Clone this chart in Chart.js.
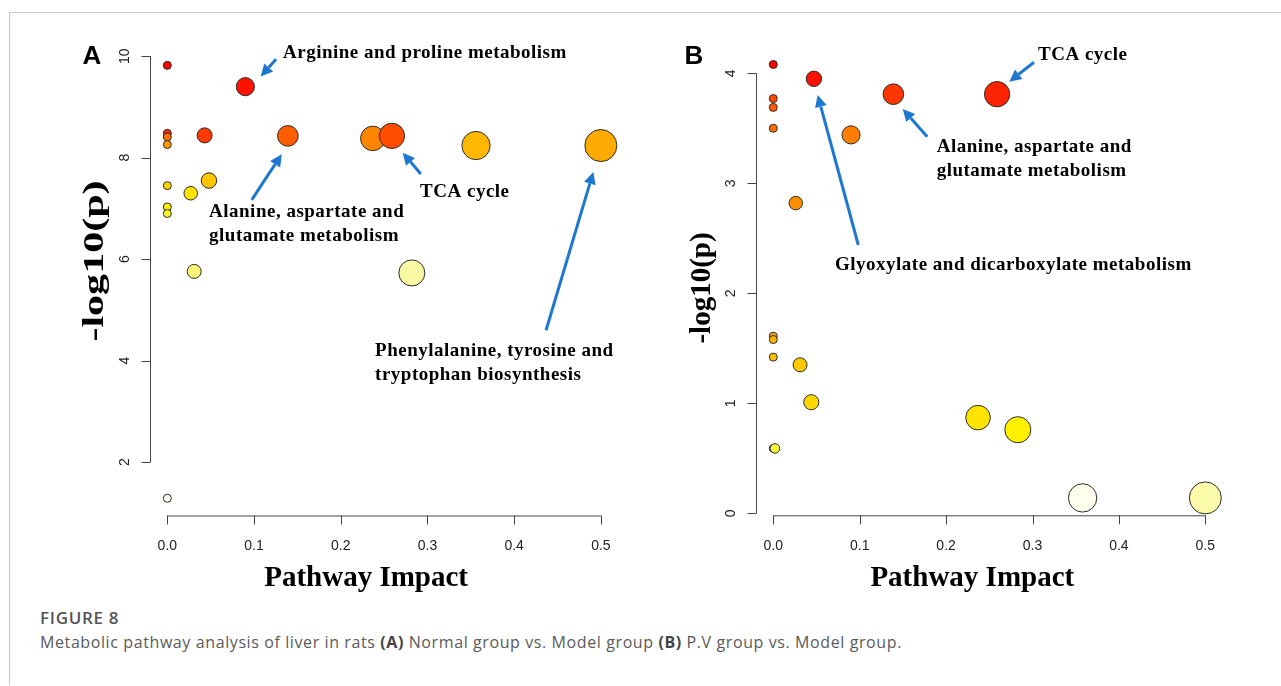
<!DOCTYPE html>
<html>
<head>
<meta charset="utf-8">
<script src="https://cdn.jsdelivr.net/npm/chart.js"></script>
<style>
  html, body { margin: 0; padding: 0; background: #fff; }
  #page { position: relative; width: 1281px; height: 686px; overflow: hidden; background: #fff; }
  #frame { position: absolute; left: 9px; top: 12px; right: 0; height: 672px;
           border-top: 1px solid #c8c8c8; border-left: 1px solid #c8c8c8; }
  canvas { position: absolute; top: 0; }
  #chartA { left: 0; }
  #chartB { left: 640px; }
  .cap { position: absolute; left: 40px; font-family: "Open Sans", "Noto Sans", sans-serif; color: #5a5a5a; white-space: nowrap; }
  #figno { top: 606px; font-size: 17px; letter-spacing: 0.7px; font-weight: 600; color: #555; }
  #figtext { top: 631px; font-size: 16px; letter-spacing: 0.6px; }
  #figtext b { color: #444; }
</style>
</head>
<body>
<div id="page">
  <div id="frame"></div>
  <canvas id="chartA" width="640" height="600"></canvas>
  <canvas id="chartB" width="641" height="600"></canvas>
  <div class="cap" id="figno">FIGURE 8</div>
  <div class="cap" id="figtext">Metabolic pathway analysis of liver in rats <b>(A)</b> Normal group vs. Model group <b>(B)</b> P.V group vs. Model group.</div>
</div>
<script>
// Pathway impact (x) vs -log10(p) (y).
const impactA = [0, 0, 0, 0, 0.043, 0.090, 0.139, 0.237, 0.259, 0.356, 0.500, 0, 0.048, 0.027, 0, 0, 0.031, 0.282, 0];
const logpA   = [9.82, 8.48, 8.41, 8.26, 8.44, 9.40, 8.43, 8.38, 8.43, 8.24, 8.24, 7.45, 7.55, 7.30, 7.03, 6.90, 5.76, 5.73, 1.29];

const impactB = [0, 0, 0, 0, 0.047, 0.090, 0.026, 0.139, 0.259, 0, 0, 0, 0.031, 0.044, 0, 0.002, 0.237, 0.283, 0.358, 0.500];
const logpB   = [4.08, 3.77, 3.69, 3.50, 3.95, 3.44, 2.82, 3.81, 3.81, 1.61, 1.58, 1.42, 1.35, 1.01, 0.59, 0.59, 0.87, 0.76, 0.14, 0.14];

const xTicks  = [0, 0.1, 0.2, 0.3, 0.4, 0.5];
const xLabels = ['0.0', '0.1', '0.2', '0.3', '0.4', '0.5'];
const yTicksA = [2, 4, 6, 8, 10];
const yTicksB = [0, 1, 2, 3, 4];

// annotations in data coordinates: text lines + arrow from -> to
const notesA = [
  { lines: ['Arginine and proline metabolism'], at: [0.1334, 10.06], from: [0.1254, 9.94], to: [0.1077, 9.60] },
  { lines: ['Alanine, aspartate and', 'glutamate metabolism'], at: [0.0481, 6.93], from: [0.0973, 7.17], to: [0.1320, 8.07] },
  { lines: ['TCA cycle'], at: [0.2915, 7.33], from: [0.2923, 7.68], to: [0.2715, 8.10] },
  { lines: ['Phenylalanine, tyrosine and', 'tryptophan biosynthesis'], at: [0.2396, 4.19], from: [0.4368, 4.60], to: [0.4913, 7.72] }
];
const notesB = [
  { lines: ['TCA cycle'], at: [0.3064, 4.166], from: [0.3017, 4.10], to: [0.2731, 3.924] },
  { lines: ['Alanine, aspartate and', 'glutamate metabolism'], at: [0.1891, 3.33], from: [0.1782, 3.424], to: [0.1498, 3.675] },
  { lines: ['Glyoxylate and dicarboxylate metabolism'], at: [0.0714, 2.257], from: [0.0984, 2.439], to: [0.0514, 3.803] }
];

const SERIF = '"Liberation Serif", "Times New Roman", serif';
const SANS = '"Liberation Sans", Arial, sans-serif';

// heat palette by p-value rank (most significant = red)
function heatColor(t) {
  const stops = [[0, 255, 0, 0], [0.5, 255, 170, 0], [0.8, 255, 244, 0], [0.89, 255, 246, 120], [0.95, 250, 250, 170], [1, 255, 255, 238]];
  for (let i = 1; i < stops.length; i++) {
    if (t <= stops[i][0]) {
      const a = stops[i - 1], b = stops[i];
      const f = (t - a[0]) / (b[0] - a[0]);
      const c = [1, 2, 3].map(k => Math.round(a[k] + (b[k] - a[k]) * f));
      return `rgb(${c[0]},${c[1]},${c[2]})`;
    }
  }
  return 'rgb(255,255,238)';
}
function rankColors(vals, xs) {
  // ties broken by larger impact first
  const order = vals.map((v, i) => i).sort((a, b) => (vals[b] - vals[a]) || (xs[b] - xs[a]));
  const out = [];
  order.forEach((idx, rank) => { out[idx] = heatColor(rank / (vals.length - 1)); });
  return out;
}

function drawArrow(ctx, x1, y1, x2, y2) {
  const ang = Math.atan2(y2 - y1, x2 - x1);
  const hl = 12, hw = 6;
  const bx = x2 - hl * Math.cos(ang), by = y2 - hl * Math.sin(ang);
  ctx.strokeStyle = '#1f78d0';
  ctx.fillStyle = '#1f78d0';
  ctx.lineWidth = 3;
  ctx.beginPath(); ctx.moveTo(x1, y1); ctx.lineTo(bx, by); ctx.stroke();
  ctx.beginPath();
  ctx.moveTo(x2, y2);
  ctx.lineTo(bx + hw * Math.sin(ang), by - hw * Math.cos(ang));
  ctx.lineTo(bx - hw * Math.sin(ang), by + hw * Math.cos(ang));
  ctx.closePath(); ctx.fill();
}

// R-like axes: line only over tick range, outward ticks, rotated y labels
const rAxes = {
  id: 'rAxes',
  beforeDatasetsDraw(chart, args, o) {
    const { ctx, chartArea: ca } = chart;
    const sx = chart.scales.x, sy = chart.scales.y;
    ctx.save();
    ctx.strokeStyle = '#444'; ctx.lineWidth = 1; ctx.fillStyle = '#222';
    ctx.font = '14px ' + SANS;
    // x axis
    const xb = ca.bottom;
    ctx.beginPath();
    ctx.moveTo(sx.getPixelForValue(o.xt[0]), xb + 0.5);
    ctx.lineTo(sx.getPixelForValue(o.xt[o.xt.length - 1]), xb + 0.5);
    o.xt.forEach(v => { const p = Math.round(sx.getPixelForValue(v)) + 0.5; ctx.moveTo(p, xb); ctx.lineTo(p, xb + 9); });
    ctx.stroke();
    ctx.textAlign = 'center'; ctx.textBaseline = 'middle';
    o.xt.forEach((v, i) => ctx.fillText(o.xl[i], sx.getPixelForValue(v), xb + 31));
    // y axis
    const yl = Math.round(ca.left) + 0.5;
    ctx.beginPath();
    ctx.moveTo(yl, sy.getPixelForValue(o.yt[0]));
    ctx.lineTo(yl, sy.getPixelForValue(o.yt[o.yt.length - 1]));
    o.yt.forEach(v => { const p = Math.round(sy.getPixelForValue(v)) + 0.5; ctx.moveTo(yl, p); ctx.lineTo(yl - 9, p); });
    ctx.stroke();
    o.yt.forEach(v => {
      ctx.save();
      ctx.translate(yl - 25, sy.getPixelForValue(v));
      ctx.rotate(-Math.PI / 2);
      ctx.fillText(String(v), 0, 0);
      ctx.restore();
    });
    // titles
    ctx.fillStyle = '#000';
    ctx.font = 'bold 29px ' + SERIF;
    ctx.fillText('Pathway Impact', (ca.left + ca.right) / 2 + o.xTitleDx, xb + 63);
    ctx.save();
    ctx.translate(o.yTitleX, o.yTitleY);
    ctx.rotate(-Math.PI / 2);
    ctx.scale(o.yTitleStretch, 1);
    ctx.fillText('-log10(p)', 0, 0);
    ctx.restore();
    // panel letter
    ctx.font = 'bold 26px ' + SANS;
    ctx.fillText(o.letter, o.letterX, 57);
    ctx.restore();
  },
  afterDatasetsDraw(chart, args, o) {
    const { ctx } = chart;
    const sx = chart.scales.x, sy = chart.scales.y;
    ctx.save();
    o.notes.forEach(n => {
      drawArrow(ctx, sx.getPixelForValue(n.from[0]), sy.getPixelForValue(n.from[1]),
                sx.getPixelForValue(n.to[0]), sy.getPixelForValue(n.to[1]));
      ctx.fillStyle = '#000';
      ctx.font = 'bold 19px ' + SERIF;
      ctx.letterSpacing = '0.5px';
      ctx.textAlign = 'left'; ctx.textBaseline = 'middle';
      const tx = sx.getPixelForValue(n.at[0]), ty = sy.getPixelForValue(n.at[1]);
      n.lines.forEach((l, i) => ctx.fillText(l, tx, ty + i * 24));
      ctx.letterSpacing = '0px';
    });
    ctx.restore();
  }
};

function makeChart(id, xs, ys, yMin, yMax, pad, axOpts) {
  const colors = rankColors(ys, xs);
  const pts = xs.map((x, i) => ({ x: x, y: ys[i], r: 4 + 17 * Math.sqrt(x) }));
  return new Chart(document.getElementById(id), {
    type: 'bubble',
    data: { datasets: [{
      data: pts,
      backgroundColor: colors,
      borderColor: '#2b2b2b',
      borderWidth: 1,
      hoverRadius: 0,
      clip: false
    }] },
    options: {
      responsive: false,
      animation: false,
      devicePixelRatio: 1,
      layout: { padding: pad },
      scales: {
        x: { type: 'linear', min: -0.02, max: 0.52, display: false },
        y: { type: 'linear', min: yMin, max: yMax, display: false }
      },
      plugins: { legend: { display: false }, tooltip: { enabled: false }, rAxes: axOpts }
    },
    plugins: [rAxes]
  });
}

makeChart('chartA', impactA, logpA, 0.95, 10.16,
  { left: 150, top: 48.1, right: 21.8, bottom: 84.5 },
  { xt: xTicks, xl: xLabels, yt: yTicksA, notes: notesA, letter: 'A', letterX: 92,
    yTitleX: 96, yTitleY: 261, yTitleStretch: 1.45, xTitleDx: -18 });

makeChart('chartB', impactB, logpB, -0.018, 4.238,
  { left: 116, top: 47.1, right: 58.4, bottom: 84.7 },
  { xt: xTicks, xl: xLabels, yt: yTicksB, notes: notesB, letter: 'B', letterX: 54,
    yTitleX: 63, yTitleY: 288, yTitleStretch: 1.0, xTitleDx: -17 });
</script>
</body>
</html>
